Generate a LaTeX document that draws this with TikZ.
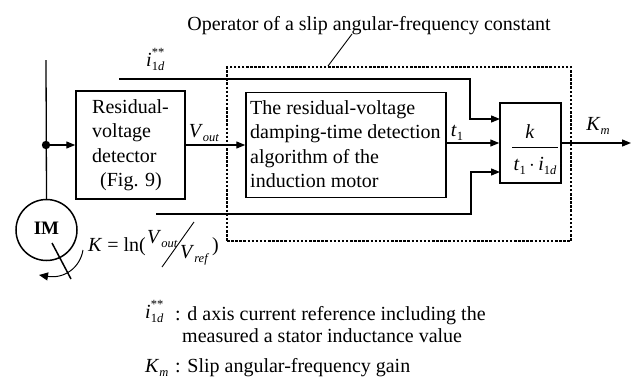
\documentclass[tikz,border=0pt]{standalone}
\usepackage{fontspec}
\setmainfont{Liberation Serif}
\usetikzlibrary{arrows.meta,shapes.geometric}
\tikzset{
  base/.style={line width=1.3pt},
  blk/.style={draw, line width=1.5pt, inner sep=0pt},
  arr/.style={base, -{Triangle[length=9pt,width=7pt]}},
  dotted box/.style={draw, line width=1.2pt, dash pattern=on 2.5pt off 1.6pt, inner sep=0pt},
  txt/.style={inner sep=0pt, font=\fontsize{20}{24.5}\selectfont},
}
\newcommand{\mysub}[1]{\raisebox{-4.5pt}{\fontsize{12.5}{12.5}\selectfont #1}}
\newcommand{\mysup}[1]{\raisebox{9.5pt}{\fontsize{12.5}{12.5}\selectfont #1}}
\newcommand{\ild}{\textit{i}\rlap{\mysup{**}}\mysub{1\textit{d}}}
\begin{document}
\begin{tikzpicture}[x=1pt,y=-1pt]
\useasboundingbox (0,0) rectangle (632,381);
% dotted operator region
\node[dotted box, minimum width=344pt, minimum height=174pt] (op) at (399,154) {};
\node[txt, anchor=base] (optxt) at (369,30) {Operator of a slip angular-frequency constant};
\coordinate (p1) at (352,34);
\coordinate (p2) at (328,66);
\draw[line width=0.9pt] (p1) -- (p2);
% blocks
\node[blk, minimum width=109pt, minimum height=108pt] (res) at (130.5,145) {};
\node[txt, anchor=north west, align=left] (restxt) at (92,99) {Residual-\\voltage\\detector\\\hspace*{8pt}(Fig. 9)};
\node[blk, minimum width=200pt, minimum height=105pt] (alg) at (346,145) {};
\node[txt, anchor=north west, align=left] (algtxt) at (250,100) {The residual-voltage\\damping-time detection\\algorithm of the\\induction motor};
\node[blk, minimum width=61pt, minimum height=80pt] (kbox) at (530.5,143) {};
\node[txt, anchor=base] (knum) at (530,138) {\textit{k}};
\coordinate (fl1) at (512,147);
\coordinate (fl2) at (558,147);
\draw[line width=0.9pt] (fl1) -- (fl2);
\node[txt, anchor=base] (kden) at (535,170) {\textit{t}\mysub{1}\,$\cdot$\,\textit{i}\mysub{1\textit{d}}};
% motor
\node[draw, circle, line width=1.5pt, minimum size=61pt, inner sep=0pt] (im) at (46.5,230) {};
\node[txt, anchor=base, font=\fontsize{19}{22}\selectfont\bfseries] (imtxt) at (46.5,234) {IM};
\coordinate (sl1) at (52,243);
\coordinate (sl2) at (71,279);
\draw[line width=1.5pt] (sl1) -- (sl2);
\coordinate (rot1) at (83,250);
\coordinate (rot2) at (39,275);
\draw[line width=1pt, -{Triangle[length=9pt,width=8pt]}] (rot1) .. controls (80,268) and (64,279) .. (rot2);
% main wiring
\coordinate (vtop) at (46,60);
\coordinate (dot) at (46,145);
\draw[base] (vtop) -- (im.north);
\fill (dot) circle (4.2pt);
\draw[arr] (dot) -- (res.west);
\draw[arr] (res.east) -- (alg.west);
\node[txt, anchor=base] (vout) at (204,137) {\textit{V}\mysub{\textit{out}}};
\draw[arr] (kbox.west -| alg.east) -- (kbox.west);
\node[txt, anchor=base] (t1) at (457,136) {\textit{t}\mysub{1}};
\coordinate (kout) at (631,143);
\draw[arr] (kbox.east) -- (kout);
\node[txt, anchor=base] (km) at (598,130) {\textit{K}\mysub{\textit{m}}};
% i1d** reference line
\coordinate (itop) at (119,79);
\coordinate (c1) at (470,119);
\coordinate (ktop) at (500,119);
\draw[arr] (itop) -| (c1) -- (ktop);
\node[txt, anchor=base west] (ildlbl) at (146,66) {\ild};
% bottom K line
\coordinate (ibot) at (156,214);
\coordinate (c2) at (471,172);
\coordinate (kbot) at (500,172);
\draw[arr] (ibot) -| (c2) -- (kbot);
% K formula
\node[txt, anchor=base west] (kf) at (88,251) {\textit{K} = ln(};
\node[txt, anchor=base west] (kvo) at (147,243) {\textit{V}\mysub{\textit{out}}};
\coordinate (fs1) at (162,267);
\coordinate (fs2) at (194,222);
\draw[line width=0.9pt] (fs1) -- (fs2);
\node[txt, anchor=base west] (kvr) at (180,258) {\textit{V}\mysub{\textit{ref}}};
\node[txt, anchor=base west] (kcl) at (212,251) {)};
% legend
\node[txt, anchor=base west] (lg1s) at (145,318) {\ild};
\node[txt, anchor=base west] (lg1) at (175,320) {: d axis current reference including the};
\node[txt, anchor=base west] (lg2) at (182,342) {measured a stator inductance value};
\node[txt, anchor=base west] (lg3s) at (145,372) {\textit{K}\mysub{\textit{m}}};
\node[txt, anchor=base west] (lg3) at (175,372) {: Slip angular-frequency gain};
\end{tikzpicture}
\end{document}
